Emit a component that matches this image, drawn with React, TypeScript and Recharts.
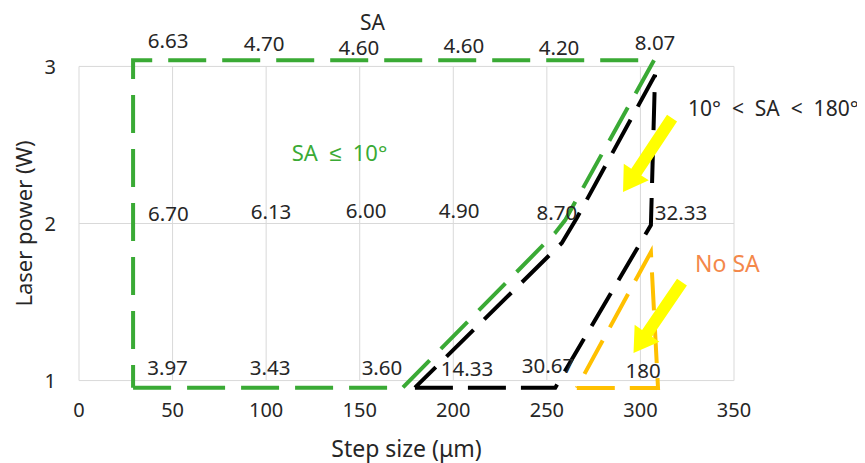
import { LineChart, Line, XAxis, YAxis, ReferenceLine, ReferenceDot } from "recharts";

const X_TICKS = [0, 50, 100, 150, 200, 250, 300, 350];
const Y_TICKS = [1, 2, 3];

// process windows (step size µm, laser power W)
const greenZone = [
  { x: 28.9, y: 0.955 },
  { x: 173, y: 0.955 },
  { x: 254.4, y: 1.94 },
  { x: 259.7, y: 2.02 },
  { x: 307.3, y: 3.04 },
  { x: 28.9, y: 3.04 },
  { x: 28.9, y: 0.955 },
];

const blackZone = [
  { x: 179.5, y: 0.955 },
  { x: 254.5, y: 0.955 },
  { x: 305.6, y: 1.99 },
  { x: 307.8, y: 2.945 },
  { x: 266, y: 2.035 },
  { x: 258, y: 1.876 },
  { x: 179.5, y: 0.955 },
];

const orangeZone = [
  { x: 266, y: 0.953 },
  { x: 309.4, y: 0.953 },
  { x: 305.6, y: 1.818 },
  { x: 266, y: 0.953 },
];

// measured SA values written next to each test point
const saValues = [
  { x: 47.6, y: 3.168, text: "6.63" },
  { x: 98.9, y: 3.146, text: "4.70" },
  { x: 149.6, y: 3.124, text: "4.60" },
  { x: 205.7, y: 3.136, text: "4.60" },
  { x: 256.5, y: 3.124, text: "4.20" },
  { x: 307.8, y: 3.155, text: "8.07" },
  { x: 47.8, y: 2.067, text: "6.70" },
  { x: 102.6, y: 2.079, text: "6.13" },
  { x: 153.4, y: 2.083, text: "6.00" },
  { x: 203.1, y: 2.083, text: "4.90" },
  { x: 255.4, y: 2.076, text: "8.70" },
  { x: 321.7, y: 2.076, text: "32.33" },
  { x: 47.3, y: 1.086, text: "3.97" },
  { x: 102.1, y: 1.086, text: "3.43" },
  { x: 161.9, y: 1.086, text: "3.60" },
  { x: 207.3, y: 1.083, text: "14.33" },
  { x: 250.6, y: 1.102, text: "30.67" },
  { x: 301.4, y: 1.067, text: "180" },
];

const GREEN = "#3AAA35";
const ORANGE = "#FFC000";
const NO_SA = "#F4884A";
const INK = "#262626";

const notes = [
  { x: 156.8, y: 3.28, text: "SA", color: INK, anchor: "middle", size: 21 },
  { x: 139.2, y: 2.455, text: "SA\u00a0 ≤\u00a0 10°", color: GREEN, anchor: "middle", size: 22 },
  { x: 325.4, y: 2.735, text: "10°\u00a0 <\u00a0 SA\u00a0 <\u00a0 180°", color: INK, anchor: "start", size: 21 },
  { x: 346.5, y: 1.748, text: "No SA", color: NO_SA, anchor: "middle", size: 23 },
];

const arrows = [
  { from: { x: 316.9, y: 2.671 }, to: { x: 290.7, y: 2.2 } },
  { from: { x: 322.2, y: 1.627 }, to: { x: 296.3, y: 1.175 } },
];

const Arrow = (p: any) => {
  const { x1, y1, x2, y2 } = p;
  const dx = x2 - x1;
  const dy = y2 - y1;
  const len = Math.sqrt(dx * dx + dy * dy);
  const ux = dx / len, uy = dy / len;
  const nx = -uy, ny = ux;
  const w = 6, hw = 15, hl = 24;
  const bx = x2 - ux * hl, by = y2 - uy * hl;
  const pts = [
    [x1 + nx * w, y1 + ny * w],
    [bx + nx * w, by + ny * w],
    [bx + nx * hw, by + ny * hw],
    [x2, y2],
    [bx - nx * hw, by - ny * hw],
    [bx - nx * w, by - ny * w],
    [x1 - nx * w, y1 - ny * w],
  ];
  return <polygon points={pts.map((q) => q.join(",")).join(" ")} fill="#FFFF00" />;
};

export default function App() {
  return (
    <div style={{ width: 857, height: 455, fontFamily: "'Noto Sans', sans-serif" }}>
      <LineChart width={857} height={455} margin={{ top: 49, right: 131, bottom: 43, left: 0 }}>
        <XAxis
          type="number"
          dataKey="x"
          domain={[0, 350]}
          ticks={X_TICKS}
          axisLine={false}
          tickLine={false}
          tickMargin={7}
          height={30}
          tick={{ fill: INK, fontSize: 20 }}
          label={{ value: "Step size (μm)", position: "bottom", offset: 21, fill: INK, fontSize: 23 }}
        />
        <YAxis
          type="number"
          domain={[0.94, 3.06]}
          ticks={Y_TICKS}
          axisLine={false}
          tickLine={false}
          tickMargin={17}
          width={71}
          tick={{ fill: INK, fontSize: 20 }}
          label={{
            value: "Laser power (W)",
            angle: -90,
            position: "insideLeft",
            offset: 16,
            fill: INK,
            fontSize: 22,
            style: { textAnchor: "middle" },
          }}
        />

        {X_TICKS.map((x) => (
          <ReferenceLine key={`gx${x}`} segment={[{ x, y: 1 }, { x, y: 3 }]} stroke="#D9D9D9" strokeWidth={1} />
        ))}
        {Y_TICKS.map((y) => (
          <ReferenceLine key={`gy${y}`} segment={[{ x: 0, y }, { x: 350, y }]} stroke="#D9D9D9" strokeWidth={1} />
        ))}

        <Line data={greenZone} dataKey="y" type="linear" stroke={GREEN} strokeWidth={4} strokeDasharray="38 16" dot={false} activeDot={false} isAnimationActive={false} />
        <Line data={blackZone} dataKey="y" type="linear" stroke="#000" strokeWidth={4} strokeDasharray="38 15" dot={false} activeDot={false} isAnimationActive={false} />
        <Line data={orangeZone} dataKey="y" type="linear" stroke={ORANGE} strokeWidth={4} strokeDasharray="38 15" dot={false} activeDot={false} isAnimationActive={false} />

        {arrows.map((a, i) => (
          <ReferenceLine key={`ar${i}`} segment={[a.from, a.to]} shape={Arrow} ifOverflow="visible" />
        ))}

        {saValues.map((d, i) => (
          <ReferenceDot
            key={`sa${i}`}
            x={d.x}
            y={d.y}
            r={0}
            ifOverflow="visible"
            shape={(p: any) => (
              <text x={p.cx} y={p.cy} textAnchor="middle" dominantBaseline="central" fontSize={20.5} fill={INK}>
                {d.text}
              </text>
            )}
          />
        ))}

        {notes.map((n, i) => (
          <ReferenceDot
            key={`nt${i}`}
            x={n.x}
            y={n.y}
            r={0}
            ifOverflow="visible"
            shape={(p: any) => (
              <text x={p.cx} y={p.cy} textAnchor={n.anchor} dominantBaseline="central" fontSize={n.size} fill={n.color}>
                {n.text}
              </text>
            )}
          />
        ))}
      </LineChart>
    </div>
  );
}
